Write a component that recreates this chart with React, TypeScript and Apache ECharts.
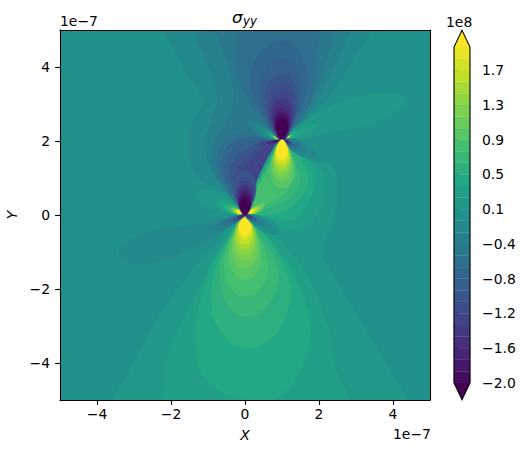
import React, { useEffect, useRef } from "react";
import * as echarts from "echarts";

// Contour levels of the filled plot (unit 1e8): 29 bands plus over/under.
const levels = [-2,-1.862,-1.724,-1.586,-1.448,-1.31,-1.172,-1.034,-0.897,-0.759,-0.621,-0.483,-0.345,-0.207,-0.069,0.069,0.207,0.345,0.483,0.621,0.759,0.897,1.034,1.172,1.31,1.448,1.586,1.724,1.862,2];
const colorTickValues = [-2,-1.586,-1.172,-0.759,-0.345,0.069,0.483,0.897,1.31,1.724];
const colorTickLabels = ["−2.0","−1.6","−1.2","−0.8","−0.4","0.1","0.5","0.9","1.3","1.7"];
const axisTicks = [-4,-2,0,2,4];
const viridisStops = ["#440154","#482475","#414487","#355f8d","#2a788e","#21918c","#22a884","#44bf70","#7ad151","#bddf26","#fde725"];
const UNDER = -1;
const OVER = 29;
const BG = 14;

// Singular points, in units of 1e-7.
const A: [number, number] = [0, 0];
const B: [number, number] = [1, 2.03];
const O: [number, number] = [0, 0];

type C = [number, [number, number], number[]];

// Contours: [band, origin, x,y,x,y,...] in units of 1e-7, painted in order.
const broadContours: C[] = [
  [15,O,[-3.9,-5.4,-3.6,-5,-2.9,-3.8,-2.3,-2.7,-1.5,-1.6,-0.86,-0.86,-0.25,-0.15,0,0,0.45,0.85,1,2.03,1.7,1.9,2.34,1.4,2.48,0.68,2.38,-0.2,2.08,-0.95,2.3,-1.5,3.2,-3,4.4,-5,4.6,-5.4]],
  [13,O,[-2.3,5.4,-2.2,5,-1.6,3.9,-1.15,3.1,-1.4,2.5,-1.49,2.1,-1.35,1.13,-0.5,0.59,0,0.05,0.35,0.85,0.77,1.76,1,2.03,1.5,2.55,2.3,3.24,3.1,4.5,3.43,5,3.6,5.4]],
  [12,O,[-1.45,5.4,-1.4,5,-0.95,3.9,-0.75,3.1,-0.9,2.6,-1.05,2,-0.95,1.3,-0.45,0.6,0,0.05,0.3,0.7,0.7,1.5,1,2.03,1.5,2.45,2,3.2,2.6,4.4,2.84,5,2.9,5.4]],
  [11,O,[-0.85,5.4,-0.8,5,-0.45,4,-0.3,3.2,-0.45,2.6,-0.85,1.9,-0.85,1.2,-0.4,0.5,0,0.05,0.25,0.7,0.6,1.45,1,2.03,1.4,2.5,1.85,3.2,2.3,4.5,2.43,5,2.5,5.4]],
  [10,O,[1,2.03,0.65,2.4,0.3,2.8,-0.1,3.5,-0.24,4.37,-0.18,5,-0.15,5.4,2.1,5.4,2.03,5,1.9,4.1,1.85,3.3,1.45,2.5]],
  [10,O,[0,0.05,-0.33,0.5,-0.72,1.15,-0.72,1.7,-0.3,2.15,0.3,2.2,1,2.03,0.5,1.35,0.22,0.6]],
  [9,O,[0,0.05,-0.28,0.5,-0.62,1.15,-0.6,1.6,-0.25,2.02,0.35,2.08,1,2.03,0.48,1.33,0.2,0.6]],
  [8,O,[0,0.05,-0.24,0.5,-0.52,1.1,-0.48,1.5,-0.15,1.88,0.45,2,1,2.03,0.46,1.3,0.18,0.6]],
  [7,O,[0,0.05,-0.2,0.5,-0.4,1.05,-0.35,1.4,-0.02,1.75,0.5,1.96,1,2.03,0.44,1.25,0.16,0.55]],
  [6,O,[0,0.05,-0.17,0.5,-0.28,0.95,-0.2,1.25,0.1,1.6,0.55,1.92,1,2.03,0.42,1.2,0.15,0.5]],
  [5,O,[0,0.05,-0.14,0.45,-0.18,0.85,-0.08,1.1,0.2,1.5,0.6,1.9,1,2.03,0.4,1.15,0.13,0.45]],
];

const topOfB: C[] = [
  [9,B,[0,0,-0.5,0.6,-0.85,1.6,-0.55,2.4,0,2.68,0.45,2.4,0.68,1.6,0.4,0.6]],
  [8,B,[0,0,-0.38,0.5,-0.6,1.3,-0.4,1.98,0,2.19,0.36,1.98,0.5,1.3,0.33,0.5]],
  [7,B,[0,0,-0.3,0.41,-0.47,1.07,-0.32,1.6,0,1.78,0.3,1.6,0.43,1.07,0.28,0.41]],
  [6,B,[0,0,-0.25,0.35,-0.39,0.91,-0.27,1.36,0,1.51,0.26,1.36,0.37,0.91,0.24,0.35]],
  [5,B,[0,0,-0.21,0.3,-0.33,0.77,-0.23,1.16,0,1.29,0.22,1.16,0.32,0.77,0.2,0.3]],
  [4,B,[0,0,-0.18,0.26,-0.28,0.67,-0.2,1,0,1.11,0.19,1,0.27,0.67,0.18,0.26]],
  [3,B,[0,0,-0.16,0.22,-0.24,0.58,-0.17,0.87,0,0.97,0.17,0.87,0.24,0.58,0.16,0.22]],
  [2,B,[0,0,-0.14,0.19,-0.21,0.5,-0.15,0.76,0,0.84,0.15,0.76,0.21,0.5,0.14,0.19]],
  [1,B,[0,0,-0.12,0.17,-0.19,0.45,-0.13,0.68,0,0.75,0.13,0.68,0.19,0.45,0.12,0.17]],
  [0,B,[0,0,-0.11,0.16,-0.17,0.41,-0.12,0.61,0,0.68,0.12,0.61,0.17,0.41,0.11,0.16]],
  [UNDER,B,[0,0,-0.1,0.13,-0.16,0.34,-0.11,0.51,0,0.57,0.11,0.51,0.16,0.34,0.1,0.13]],
];

const topOfA: C[] = [
  [7,A,[0,0,-0.19,0.28,-0.3,0.72,-0.2,1.08,0,1.2,0.2,1.08,0.3,0.72,0.19,0.28]],
  [6,A,[0,0,-0.16,0.24,-0.25,0.62,-0.18,0.93,0,1.03,0.18,0.93,0.25,0.62,0.16,0.24]],
  [5,A,[0,0,-0.15,0.21,-0.23,0.55,-0.16,0.83,0,0.92,0.16,0.83,0.23,0.55,0.15,0.21]],
  [4,A,[0,0,-0.13,0.19,-0.2,0.5,-0.14,0.75,0,0.83,0.14,0.75,0.2,0.5,0.13,0.19]],
  [3,A,[0,0,-0.12,0.17,-0.19,0.45,-0.13,0.68,0,0.75,0.13,0.68,0.19,0.45,0.12,0.17]],
  [2,A,[0,0,-0.11,0.15,-0.17,0.4,-0.12,0.6,0,0.67,0.12,0.6,0.17,0.4,0.11,0.15]],
  [1,A,[0,0,-0.1,0.14,-0.15,0.36,-0.1,0.54,0,0.6,0.1,0.54,0.15,0.36,0.1,0.14]],
  [0,A,[0,0,-0.1,0.12,-0.15,0.32,-0.1,0.48,0,0.53,0.1,0.48,0.15,0.32,0.1,0.12]],
  [UNDER,A,[0,0,-0.09,0.1,-0.14,0.26,-0.09,0.4,0,0.44,0.09,0.4,0.14,0.26,0.09,0.1]],
];

const centralContours: C[] = [
  [16,O,[0,0,0.7,-0.2,1.49,-0.39,2,0.1,2.16,0.75,2,1.3,1.55,1.85,1,2.03,0.65,1.6,0.3,0.85,0.05,0.3]],
  [17,O,[0,0,0.6,-0.05,1.31,-0.135,1.7,0.32,1.89,0.85,1.8,1.35,1.45,1.8,1,2.03,0.7,1.6,0.32,0.85,0.06,0.3]],
  [18,O,[0,0,0.5,0,1.05,0.1,1.45,0.4,1.68,0.85,1.6,1.3,1.3,1.75,1,2.03,0.74,1.6,0.35,0.85,0.07,0.3]],
  [19,O,[0,0,0.35,0.08,0.8,0.25,1.2,0.45,1.45,0.8,1.42,1.25,1.25,1.65,1,2.03,0.78,1.6,0.38,0.85,0.08,0.3]],
  [20,O,[0,0,0.3,0.12,0.6,0.3,0.95,0.5,1.2,0.75,1.25,1.2,1.15,1.6,1,2.03,0.82,1.6,0.4,0.85,0.1,0.3]],
];

const sideLobes: C[] = [
  // upper right of B
  [15,B,[0,0,1.3,0.89,2.65,1.27,3.38,1.07,2.65,0.54,1.3,0.19]],
  [16,B,[0,0,0.5,0.33,0.98,0.42,0.6,0.1]],
  [17,B,[0,0,0.28,0.2,0.55,0.24,0.32,0.06]],
  [18,B,[0,0,0.17,0.13,0.33,0.15,0.2,0.03]],
  [22,B,[0,0,0.12,0.1,0.25,0.12,0.15,0.03]],
  [OVER,B,[0,0,0.1,0.08,0.2,0.09,0.12,0.02]],
  // upper left of B
  [12,B,[0,0,-0.5,0.38,-0.95,0.48,-0.6,0.1]],
  [13,B,[0,0,-0.38,0.3,-0.72,0.36,-0.46,0.08]],
  [14,B,[0,0,-0.3,0.24,-0.55,0.28,-0.36,0.07]],
  [15,B,[0,0,-0.24,0.19,-0.43,0.2,-0.28,0.05]],
  [17,B,[0,0,-0.19,0.15,-0.35,0.15,-0.22,0.04]],
  [19,B,[0,0,-0.15,0.12,-0.27,0.11,-0.18,0.03]],
  [22,B,[0,0,-0.12,0.1,-0.23,0.1,-0.14,0.02]],
  [OVER,B,[0,0,-0.1,0.08,-0.2,0.08,-0.12,0.02]],
  // lower left of B
  [5,B,[0,0,-0.35,-0.03,-0.72,-0.13,-0.35,-0.13]],
  [3,B,[0,0,-0.22,-0.02,-0.45,-0.08,-0.22,-0.09]],
  [1,B,[0,0,-0.14,-0.01,-0.28,-0.05,-0.14,-0.06]],
  // lower right of B
  [14,B,[0,0,0.7,-0.05,1.35,-0.55,0.75,-0.55]],
  [13,B,[0,0,0.55,-0.06,0.94,-0.42,0.5,-0.42]],
  [12,B,[0,0,0.42,-0.04,0.66,-0.28,0.36,-0.3]],
  [11,B,[0,0,0.32,-0.03,0.5,-0.22,0.27,-0.23]],
  [10,B,[0,0,0.25,-0.02,0.39,-0.17,0.21,-0.18]],
  [8,B,[0,0,0.19,-0.02,0.3,-0.13,0.16,-0.14]],
  [5,B,[0,0,0.15,-0.01,0.23,-0.1,0.12,-0.1]],
  [2,B,[0,0,0.12,-0.01,0.18,-0.08,0.1,-0.08]],
  // upper left of A
  [15,A,[0,0,-0.74,0.62,-1.34,0.59,-0.88,0.15]],
  [16,A,[0,0,-0.45,0.38,-0.82,0.36,-0.54,0.09]],
  [17,A,[0,0,-0.36,0.3,-0.66,0.29,-0.43,0.07]],
  [18,A,[0,0,-0.3,0.25,-0.55,0.24,-0.36,0.06]],
  [20,A,[0,0,-0.24,0.2,-0.44,0.19,-0.29,0.05]],
  [22,A,[0,0,-0.2,0.17,-0.36,0.16,-0.24,0.04]],
  [24,A,[0,0,-0.17,0.14,-0.31,0.14,-0.2,0.03]],
  [26,A,[0,0,-0.15,0.13,-0.27,0.12,-0.18,0.03]],
  [OVER,A,[0,0,-0.13,0.11,-0.24,0.1,-0.16,0.03]],
  // upper right of A
  [22,A,[0,0,0.3,0.25,0.52,0.3,0.36,0.07]],
  [24,A,[0,0,0.23,0.19,0.4,0.23,0.28,0.06]],
  [26,A,[0,0,0.18,0.15,0.31,0.18,0.22,0.04]],
  [OVER,A,[0,0,0.14,0.11,0.24,0.14,0.16,0.03]],
  // lower left of A
  [13,O,[-0.1,-0.03,-1.2,-0.25,-2.57,-0.46,-3.3,-0.8,-3.4,-1.05,-3.1,-1.3,-2.3,-1.25,-1,-0.7,-0.3,-0.2]],
  [12,A,[0,0,-0.6,-0.12,-1,-0.42,-0.56,-0.38]],
  [11,A,[0,0,-0.42,-0.09,-0.7,-0.29,-0.39,-0.27]],
  [10,A,[0,0,-0.32,-0.07,-0.52,-0.22,-0.29,-0.2]],
  [9,A,[0,0,-0.25,-0.05,-0.41,-0.17,-0.23,-0.16]],
  [7,A,[0,0,-0.19,-0.04,-0.31,-0.13,-0.17,-0.12]],
  [5,A,[0,0,-0.15,-0.03,-0.24,-0.1,-0.13,-0.09]],
  [2,A,[0,0,-0.12,-0.02,-0.19,-0.08,-0.1,-0.07]],
  // lower right of A
  [14,A,[0,0,0.62,-0.1,0.95,-0.5,0.52,-0.46]],
  [13,A,[0,0,0.44,-0.08,0.7,-0.34,0.38,-0.3]],
  [12,A,[0,0,0.33,-0.06,0.55,-0.26,0.29,-0.22]],
  [11,A,[0,0,0.26,-0.05,0.42,-0.2,0.23,-0.17]],
  [9,A,[0,0,0.2,-0.04,0.33,-0.15,0.18,-0.13]],
  [7,A,[0,0,0.16,-0.03,0.25,-0.11,0.14,-0.1]],
  [4,A,[0,0,0.12,-0.02,0.19,-0.08,0.1,-0.07]],
];

const bottomOfB: C[] = [
  [21,B,[0,0,-0.2,-0.3,-0.32,-0.78,-0.22,-1.17,0,-1.3,0.24,-1.17,0.34,-0.78,0.21,-0.3]],
  [22,B,[0,0,-0.18,-0.25,-0.27,-0.66,-0.19,-1,0,-1.1,0.19,-1,0.27,-0.66,0.18,-0.25]],
  [23,B,[0,0,-0.16,-0.23,-0.24,-0.59,-0.17,-0.88,0,-0.98,0.17,-0.88,0.24,-0.59,0.16,-0.23]],
  [24,B,[0,0,-0.14,-0.2,-0.22,-0.52,-0.15,-0.78,0,-0.87,0.15,-0.78,0.22,-0.52,0.14,-0.2]],
  [25,B,[0,0,-0.13,-0.18,-0.2,-0.47,-0.14,-0.7,0,-0.78,0.14,-0.7,0.2,-0.47,0.13,-0.18]],
  [26,B,[0,0,-0.12,-0.16,-0.18,-0.42,-0.13,-0.63,0,-0.7,0.13,-0.63,0.18,-0.42,0.12,-0.16]],
  [27,B,[0,0,-0.11,-0.15,-0.17,-0.38,-0.12,-0.57,0,-0.63,0.12,-0.57,0.17,-0.38,0.11,-0.15]],
  [28,B,[0,0,-0.1,-0.13,-0.16,-0.34,-0.11,-0.5,0,-0.56,0.11,-0.5,0.16,-0.34,0.1,-0.13]],
  [OVER,B,[0,0,-0.09,-0.12,-0.15,-0.3,-0.1,-0.45,0,-0.5,0.1,-0.45,0.15,-0.3,0.09,-0.12]],
];

const bottomOfA: C[] = [
  [16,O,[-2.3,-5.4,-2.25,-5,-2.03,-3.65,-1.4,-2.3,-0.77,-1.04,-0.22,-0.23,0,0,0.4,-0.2,1.5,-1.35,2.2,-2.9,2.49,-4.27,2.84,-5,2.9,-5.4]],
  [17,A,[0,0,-0.45,-0.6,-0.95,-1.5,-1.3,-2.8,-1.32,-3.6,-1.1,-4.4,0,-5,0.9,-4.9,1.5,-4.2,1.76,-3.2,1.55,-2.1,1,-1.1,0.4,-0.35]],
  [18,A,[0,0,-0.35,-0.5,-0.75,-1.3,-0.92,-2.2,-0.7,-3.1,0,-3.6,0.7,-3.35,1.15,-2.6,1.22,-1.9,0.85,-1,0.3,-0.3]],
  [19,A,[0,0,-0.3,-0.45,-0.6,-1.1,-0.69,-1.7,-0.45,-2.45,0,-2.75,0.5,-2.55,0.88,-1.9,0.85,-1.3,0.5,-0.7,0.2,-0.25]],
  [20,A,[0,0,-0.25,-0.4,-0.5,-0.95,-0.55,-1.5,-0.35,-2,0,-2.19,0.4,-2,0.62,-1.5,0.55,-1,0.28,-0.45]],
  [21,A,[0,0,-0.28,-0.4,-0.43,-1.05,-0.3,-1.58,0,-1.75,0.3,-1.58,0.43,-1.05,0.28,-0.4]],
  [22,A,[0,0,-0.23,-0.33,-0.36,-0.87,-0.25,-1.3,0,-1.45,0.25,-1.3,0.36,-0.87,0.23,-0.33]],
  [23,A,[0,0,-0.2,-0.28,-0.3,-0.73,-0.21,-1.1,0,-1.22,0.21,-1.1,0.3,-0.73,0.2,-0.28]],
  [24,A,[0,0,-0.17,-0.24,-0.26,-0.63,-0.18,-0.95,0,-1.05,0.18,-0.95,0.26,-0.63,0.17,-0.24]],
  [25,A,[0,0,-0.15,-0.21,-0.23,-0.55,-0.16,-0.83,0,-0.92,0.16,-0.83,0.23,-0.55,0.15,-0.21]],
  [26,A,[0,0,-0.13,-0.18,-0.2,-0.48,-0.14,-0.72,0,-0.8,0.14,-0.72,0.2,-0.48,0.13,-0.18]],
  [27,A,[0,0,-0.11,-0.16,-0.17,-0.41,-0.12,-0.61,0,-0.68,0.12,-0.61,0.17,-0.41,0.11,-0.16]],
  [28,A,[0,0,-0.1,-0.14,-0.16,-0.36,-0.11,-0.54,0,-0.6,0.11,-0.54,0.16,-0.36,0.1,-0.14]],
  [OVER,A,[0,0,-0.09,-0.12,-0.17,-0.32,-0.1,-0.49,0,-0.54,0.1,-0.49,0.17,-0.32,0.09,-0.12]],
];

const contours: C[] = [
  ...broadContours, ...centralContours, ...bottomOfA, ...sideLobes, ...topOfA, ...topOfB, ...bottomOfB,
];

function bandColor(k: number): string {
  const t = k <= UNDER ? 0 : k >= OVER ? 1 : (k + 1) / 30;
  return echarts.color.lerp(t, viridisStops) as string;
}

const FONT = "DejaVu Sans";
const TICK = 13.9;
const minusText = (v: number) => String(v).replace("-", "−");

function buildOption(): any {
  const bandData = levels.slice(0, -1).map((low, i) => [low, levels[i + 1], i]);
  return {
    animation: false,
    backgroundColor: "#fff",
    textStyle: { fontFamily: FONT },
    grid: [
      { left: 60, top: 30, width: 370, height: 370, show: true, backgroundColor: bandColor(BG), borderWidth: 0, outerBoundsMode: "none" },
      { left: 454, top: 47, width: 16, height: 336, outerBoundsMode: "none" },
    ],
    xAxis: [
      {
        type: "value", gridIndex: 0, min: -5, max: 5, z: 10,
        name: "X", nameLocation: "middle", nameGap: 28,
        nameTextStyle: { fontFamily: FONT, fontSize: TICK, fontStyle: "italic", color: "#000" },
        splitLine: { show: false },
        axisLine: { onZero: false, lineStyle: { color: "#000", width: 1.1 } },
        axisTick: { customValues: axisTicks, length: 4.9, lineStyle: { color: "#000", width: 1.1 } },
        axisLabel: { customValues: axisTicks, formatter: minusText, fontFamily: FONT, fontSize: TICK, color: "#000", margin: 7 },
      },
      { type: "value", gridIndex: 0, min: -5, max: 5, position: "top", z: 10, splitLine: { show: false },
        axisLine: { onZero: false, lineStyle: { color: "#000", width: 1.1 } }, axisTick: { show: false }, axisLabel: { show: false } },
      { type: "value", gridIndex: 1, min: 0, max: 1, show: false },
    ],
    yAxis: [
      {
        type: "value", gridIndex: 0, min: -5, max: 5, z: 10,
        name: "Y", nameLocation: "middle", nameGap: 38,
        nameTextStyle: { fontFamily: FONT, fontSize: TICK, fontStyle: "italic", color: "#000" },
        splitLine: { show: false },
        axisLine: { onZero: false, lineStyle: { color: "#000", width: 1.1 } },
        axisTick: { customValues: axisTicks, length: 4.9, lineStyle: { color: "#000", width: 1.1 } },
        axisLabel: { customValues: axisTicks, formatter: minusText, fontFamily: FONT, fontSize: TICK, color: "#000", margin: 10 },
      },
      { type: "value", gridIndex: 0, min: -5, max: 5, position: "right", z: 10, splitLine: { show: false },
        axisLine: { onZero: false, lineStyle: { color: "#000", width: 1.1 } }, axisTick: { show: false }, axisLabel: { show: false } },
      {
        type: "value", gridIndex: 1, min: -2, max: 2, position: "right", splitLine: { show: false },
        axisLine: { show: false },
        axisTick: { customValues: colorTickValues, length: 4.9, lineStyle: { color: "#000", width: 1.1 } },
        axisLabel: {
          customValues: colorTickValues, fontFamily: FONT, fontSize: TICK, color: "#000", margin: 12,
          formatter: (v: number) => colorTickLabels[colorTickValues.indexOf(v)] ?? "",
        },
      },
    ],
    series: [
      {
        type: "custom", xAxisIndex: 0, yAxisIndex: 0, clip: true, z: 2, silent: true,
        data: contours.map((_, i) => [i]),
        renderItem: (_p: any, api: any) => {
          const [band, origin, flat] = contours[api.value(0)];
          const points: number[][] = [];
          for (let i = 0; i < flat.length; i += 2) {
            points.push(api.coord([flat[i] + origin[0], flat[i + 1] + origin[1]]));
          }
          const fill = bandColor(band);
          return { type: "polygon", shape: { points, smooth: 0.4 }, style: { fill, stroke: fill, lineWidth: 0.4 } };
        },
      },
      {
        type: "custom", xAxisIndex: 2, yAxisIndex: 2, clip: false, z: 2, silent: true,
        data: bandData,
        encode: { y: [0, 1] },
        renderItem: (_p: any, api: any) => {
          const a = api.coord([0, api.value(0)]);
          const b = api.coord([1, api.value(1)]);
          const fill = bandColor(api.value(2));
          return { type: "rect", shape: { x: a[0], y: b[1], width: b[0] - a[0], height: a[1] - b[1] }, style: { fill, stroke: fill, lineWidth: 0.3 } };
        },
      },
      {
        type: "custom", xAxisIndex: 2, yAxisIndex: 2, clip: false, z: 3, silent: true,
        data: [[0]],
        renderItem: (_p: any, api: any) => {
          const p = (x: number, y: number) => api.coord([x, y]);
          const over = [p(0, 2), p(0.5, 2.2), p(1, 2)];
          const under = [p(0, -2), p(0.5, -2.2), p(1, -2)];
          const outline = [p(0, -2), p(0, 2), p(0.5, 2.2), p(1, 2), p(1, -2), p(0.5, -2.2)];
          return {
            type: "group",
            children: [
              { type: "polygon", shape: { points: over }, style: { fill: bandColor(OVER) } },
              { type: "polygon", shape: { points: under }, style: { fill: bandColor(UNDER) } },
              { type: "polygon", shape: { points: outline }, style: { fill: "none", stroke: "#000", lineWidth: 1.1 } },
            ],
          };
        },
      },
    ],
    graphic: [
      { type: "text", x: 245, y: 8, style: { text: "σ", x: -13, y: 0, fill: "#000", font: `italic 16.7px ${FONT}` } },
      { type: "text", x: 245, y: 15, style: { text: "yy", x: -2, y: 0, fill: "#000", font: `italic 11.7px ${FONT}` } },
      { type: "text", x: 60, y: 14, style: { text: "1e−7", fill: "#000", font: `${TICK}px ${FONT}` } },
      { type: "text", x: 393, y: 427, style: { text: "1e−7", fill: "#000", font: `${TICK}px ${FONT}` } },
      { type: "text", x: 446, y: 15, style: { text: "1e8", fill: "#000", font: `${TICK}px ${FONT}` } },
    ],
  };
}

export default function App() {
  const ref = useRef<HTMLDivElement>(null);
  useEffect(() => {
    document.body.style.margin = "0";
    const chart = echarts.init(ref.current!, undefined, { renderer: "svg" });
    chart.setOption(buildOption());
    return () => chart.dispose();
  }, []);
  return <div ref={ref} style={{ width: 524, height: 453 }} />;
}
